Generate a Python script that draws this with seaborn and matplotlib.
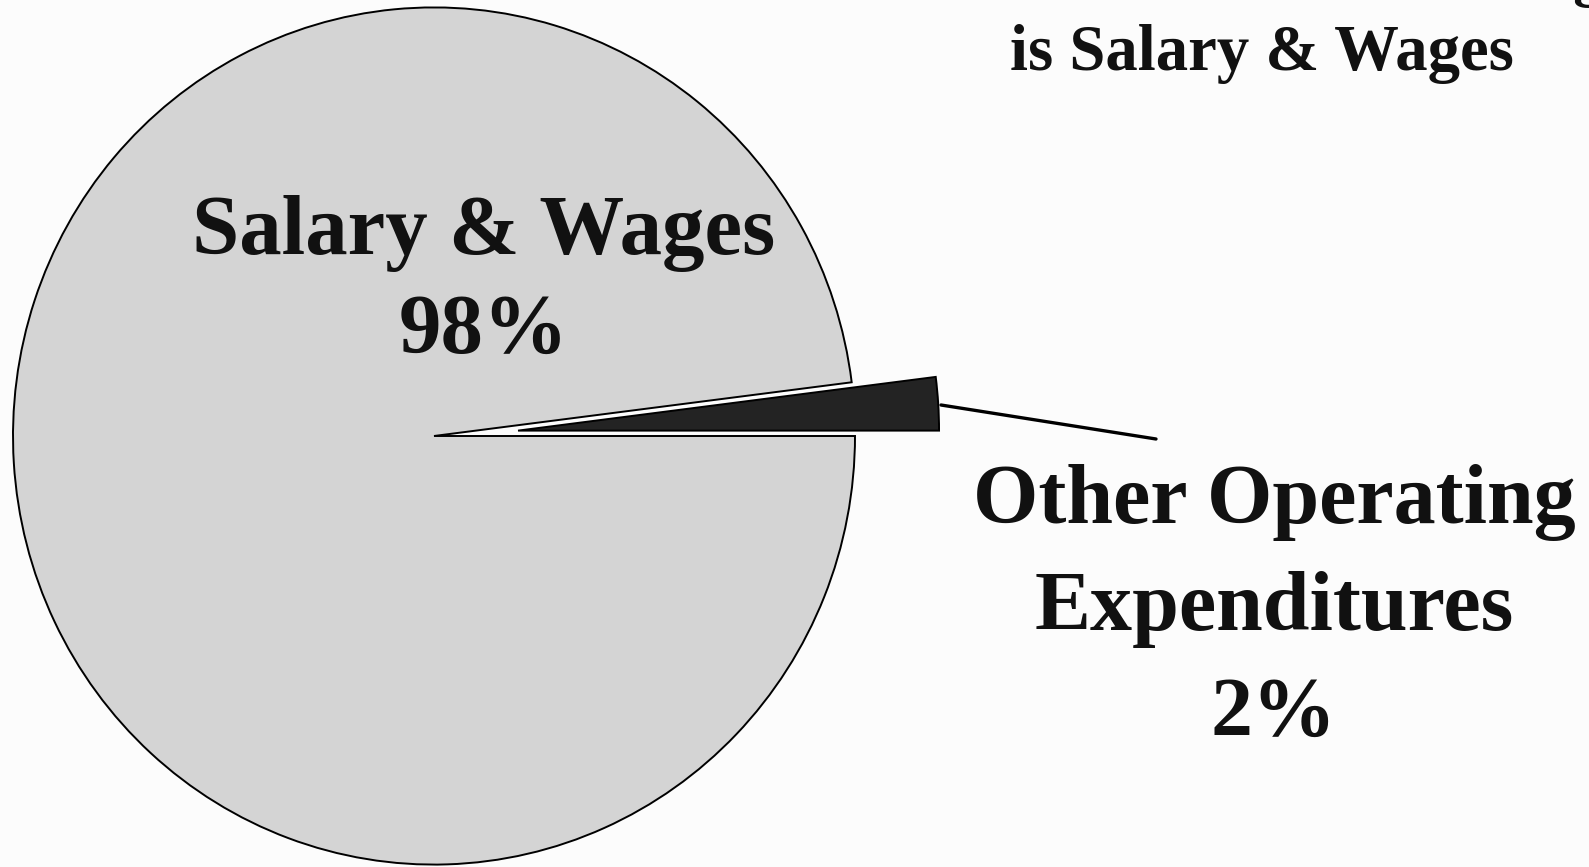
import matplotlib
matplotlib.use("Agg")
import matplotlib.pyplot as plt
import seaborn as sns

# data
categories = ["Other Operating\nExpenditures", "Salary & Wages"]
shares = [2, 98]
colors = ["#232323", "#d4d4d4"]

sns.set_theme(style="white")
plt.rcParams["font.family"] = ["Liberation Serif", "DejaVu Serif"]

W, H = 1589, 867
R = 421
KY = 1.018  # the scanned pie is a touch taller than wide

fig = plt.figure(figsize=(W / 100, H / 100), dpi=100)
fig.patch.set_facecolor("#fcfcfc")
ax = fig.add_axes([0, 0, 1, 1])

# explode is in data units here, so scale by the radius
ax.pie(shares, explode=[0.2 * R, 0.0], colors=colors, startangle=0, counterclock=True,
       center=(434, -436 / KY), radius=R,
       wedgeprops=dict(edgecolor="black", linewidth=1.4))
ax.set_xlim(0, W)
ax.set_ylim(-H / KY, 0)
ax.set_aspect("auto")
ax.axis("off")

# overlay in pixel coordinates for the text
tx = fig.add_axes([0, 0, 1, 1])
tx.set_xlim(0, W)
tx.set_ylim(H, 0)
tx.axis("off")
tx.patch.set_alpha(0)

tx.text(484, 283, f"{categories[1]}\n{shares[1]}%", ha="center", va="center",
        fontsize=61, fontweight="bold", linespacing=1.36, color="#111111")
tx.text(1274, 609, f"{categories[0]}\n{shares[0]}%", ha="center", va="center",
        fontsize=60.5, fontweight="bold", linespacing=1.5, color="#111111")
tx.annotate("", xy=(941, 405), xytext=(1156, 439),
            arrowprops=dict(arrowstyle="-", color="black", lw=2.4,
                            shrinkA=0, shrinkB=0))

# title: the first line runs off the top and right edge of the page
title1 = "Most of the District Budget"
renderer = fig.canvas.get_renderer()
probe = tx.text(0, 0, title1[:title1.index("Budget") + 3], fontsize=46.5,
                fontweight="bold")
w_px = probe.get_window_extent(renderer).width
probe.remove()
tx.text(1573 - w_px, -6, title1, ha="left", va="baseline",
        fontsize=46.5, fontweight="bold", color="#111111")
tx.text(1262, 54, "is Salary & Wages", ha="center", va="center",
        fontsize=46.5, fontweight="bold", color="#111111")

fig.savefig("out.png", dpi=100, facecolor=fig.get_facecolor())
